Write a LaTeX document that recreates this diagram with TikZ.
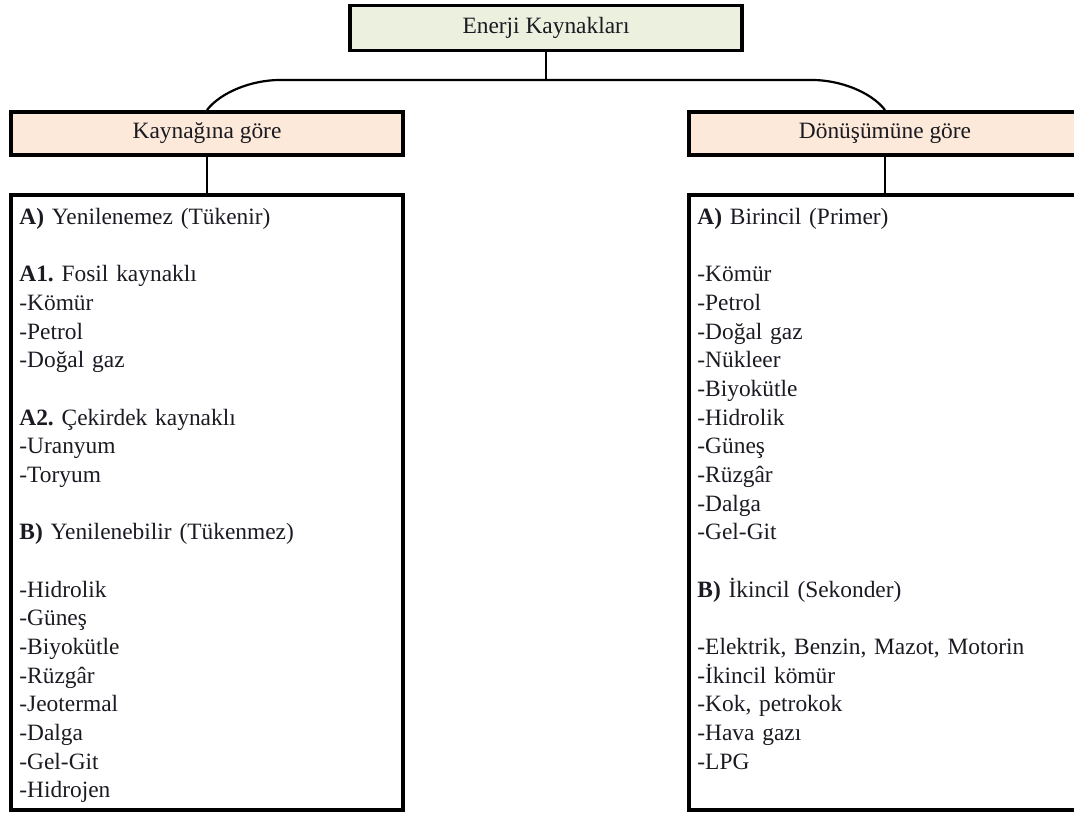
\documentclass[tikz,border=0pt]{standalone}
\usepackage{fontspec}
\setmainfont{Liberation Serif}
\usepackage{tikz}
\usetikzlibrary{positioning}
\definecolor{RootGreen}{HTML}{EBF1DE}
\definecolor{HeadPeach}{HTML}{FDE9D9}
\definecolor{InkDark}{HTML}{1A1A22}
\newcommand{\listfont}{\fontsize{11.7}{14.33}\selectfont\frenchspacing}
\tikzset{%
  rootbox/.style={draw,line width=1.8pt,fill=RootGreen,minimum width=196pt,
    minimum height=22.5pt,font=\listfont,text=InkDark},
  headbox/.style={draw,line width=1.8pt,fill=HeadPeach,minimum width=196pt,
    minimum height=21.7pt,font=\listfont,text=InkDark},
  listbox/.style={draw,line width=1.8pt,minimum width=196pt,minimum height=307.5pt},
  listtext/.style={anchor=base west,inner sep=0pt,text width=185pt,align=left,
    font=\listfont,text=InkDark},
  link/.style={line width=1.1pt}
}

\begin{document}
\begin{tikzpicture}[x=0.5pt,y=0.5pt]
      \useasboundingbox (0,0) rectangle (1074,817);
      \node[rootbox] (root) at (546,789) {Enerji Kaynakları};
      \node[headbox] (lhead) at (207,683.5) {Kaynağına göre};
      \node[headbox] (rhead) at (885,683.5) {Dönüşümüne göre};
      \node[listbox, below=18pt of lhead] (lbox) {};
      \node[listbox, below=18pt of rhead] (rbox) {};
      % list contents
      \node[listtext] (ltext) at (19,592.5) {\textbf{A)} Yenilenemez (Tükenir)\\ \mbox{}\\
        \textbf{A1.} Fosil kaynaklı\\ -Kömür\\ -Petrol\\ -Doğal gaz\\ \mbox{}\\
        \textbf{A2.} Çekirdek kaynaklı\\ -Uranyum\\ -Toryum\\ \mbox{}\\
        \textbf{B)} Yenilenebilir (Tükenmez)\\ \mbox{}\\
        -Hidrolik\\ -Güneş\\ -Biyokütle\\ -Rüzgâr\\ -Jeotermal\\ -Dalga\\ -Gel-Git\\ -Hidrojen};
      \node[listtext] (rtext) at (697,592.5) {\textbf{A)} Birincil (Primer)\\ \mbox{}\\
        -Kömür\\ -Petrol\\ -Doğal gaz\\ -Nükleer\\ -Biyokütle\\ -Hidrolik\\ -Güneş\\ -Rüzgâr\\
        -Dalga\\ -Gel-Git\\ \mbox{}\\
        \textbf{B)} İkincil (Sekonder)\\ \mbox{}\\
        -Elektrik, Benzin, Mazot, Motorin\\ -İkincil kömür\\ -Kok, petrokok\\ -Hava gazı\\ -LPG};
      % connectors
      \coordinate (joint) at (546,737);
      \coordinate (lbend) at (280,737);
      \coordinate (rbend) at (812,737);
      \draw[link] (root.south) -- (joint);
      \draw[link] (lhead.north) .. controls +(14,18) and +(-28,0) .. (lbend)
        -- (rbend) .. controls +(28,0) and +(-14,18) .. (rhead.north);
      \draw[link] (lhead.south) -- (lbox.north);
      \draw[link] (rhead.south) -- (rbox.north);
    \end{tikzpicture}
\end{document}
